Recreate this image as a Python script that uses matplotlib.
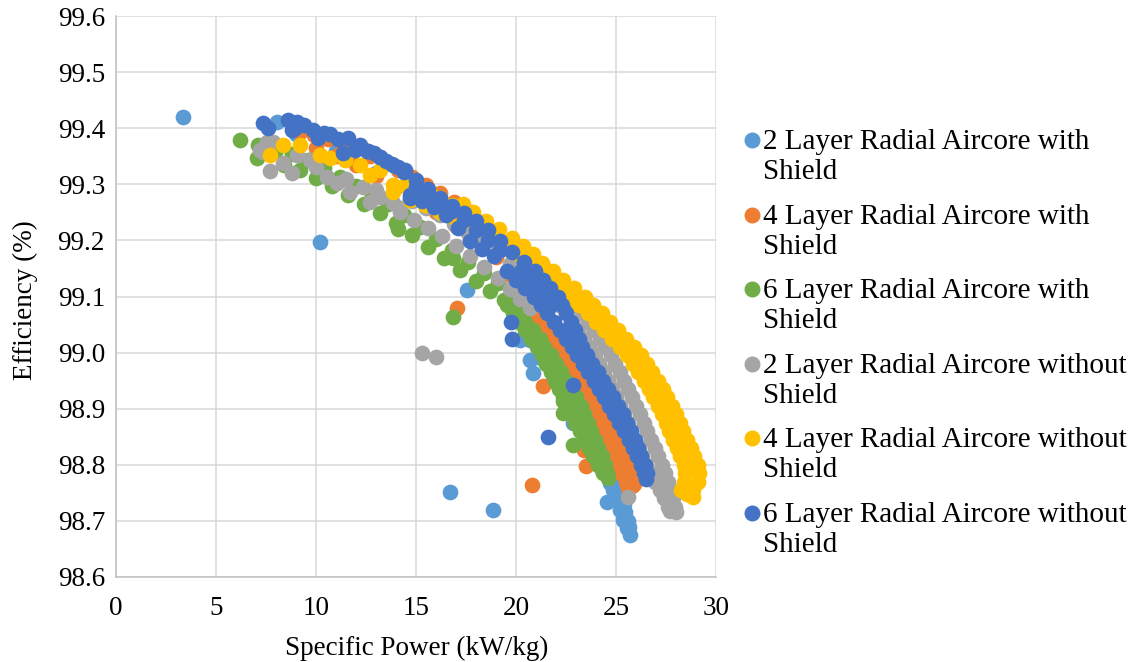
import matplotlib
matplotlib.use("Agg")
import matplotlib.pyplot as plt
from matplotlib.lines import Line2D
from matplotlib.ticker import FormatStrFormatter

plt.rcParams["font.family"] = ["Liberation Serif", "DejaVu Serif"]

labels = [
    "2 Layer Radial Aircore with",
    "4 Layer Radial Aircore with",
    "6 Layer Radial Aircore with",
    "2 Layer Radial Aircore without",
    "4 Layer Radial Aircore without",
    "6 Layer Radial Aircore without",
]
colors = ["#5B9BD5", "#ED7D31", "#70AD47", "#A5A5A5", "#FFC000", "#4472C4"]

# ---- 2 layer with shield (light blue) ----
lb_x = [3.35, 10.2, 16.7, 18.85, 17.55, 8.05, 9.0, 11.0, 13.0,
        19.55, 20.05, 20.55, 21.25, 21.85, 22.45, 22.95, 23.4, 23.9, 24.3,
        20.2, 20.7, 20.8, 21.05, 20.7, 20.85, 22.85,
        24.7, 24.85, 24.9, 25.0, 25.15, 25.3, 25.4, 25.45, 25.6, 25.65,
        24.55, 25.05, 25.2, 25.35, 25.55, 25.7]
lb_y = [99.42, 99.197, 98.752, 98.72, 99.112, 99.411, 99.39, 99.36, 99.32,
        99.09, 99.06, 99.03, 98.99, 98.95, 98.91, 98.88, 98.845, 98.815, 98.79,
        99.022, 99.022, 99.031, 99.014, 98.987, 98.964, 98.875,
        98.768, 98.755, 98.79, 98.775, 98.76, 98.745, 98.73, 98.715, 98.70, 98.69,
        98.734, 98.737, 98.719, 98.702, 98.687, 98.675]

# ---- 4 layer with shield (orange) ----
or_top_x = [9.2, 9.9, 10.6, 11.3, 12.0, 12.7, 13.4, 14.1, 14.8, 15.5, 16.2, 16.9,
            17.6, 18.3, 19.0, 19.6, 20.2]
or_top_y = [99.394, 99.388, 99.381, 99.373, 99.363, 99.351, 99.339, 99.326, 99.313, 99.299, 99.284, 99.268,
            99.25, 99.232, 99.21, 99.19, 99.165]
or_low_x = [10.0, 11.0, 12.0, 13.0, 14.0, 15.0, 16.0, 17.0, 18.0, 19.0, 19.6, 20.0]
or_low_y = [99.365, 99.35, 99.335, 99.315, 99.295, 99.275, 99.25, 99.225, 99.2, 99.17, 99.14, 99.115]
or_levels = [99.085, 99.07, 99.055, 99.04, 99.025, 99.01, 98.995, 98.98, 98.965, 98.95, 98.935,
             98.92, 98.905, 98.89, 98.875, 98.86, 98.845, 98.83, 98.815, 98.80, 98.785]
or_a_x = [20.45, 20.8, 21.1, 21.5, 21.85, 22.05, 22.4, 22.65, 22.9, 23.15, 23.4,
          23.65, 23.9, 24.05, 24.25, 24.4, 24.6, 24.75, 24.95, 25.1, 25.2]
or_b_x = [20.95, 21.3, 21.6, 22.0, 22.35, 22.55, 22.9, 23.15, 23.4, 23.65, 23.9,
          24.15, 24.4, 24.55, 24.75, 24.9, 25.1, 25.25, 25.45, 25.6, 25.7]
or_pts_x = [25.5, 25.8, 25.9, 25.6, 17.05, 21.35, 23.4, 23.5, 20.8]
or_pts_y = [98.77, 98.762, 98.765, 98.758, 99.08, 98.94, 98.826, 98.798, 98.764]

# ---- 6 layer with shield (green) ----
gr_pts_x = [6.2, 7.05, 7.1, 16.85, 22.85, 14.1, 16.85, 22.35, 22.35, 24.6]
gr_pts_y = [99.379, 99.347, 99.370, 99.063, 98.835, 99.22, 99.169, 98.913, 98.892, 98.776]
gr_top_x = [8.0, 8.8, 9.6, 10.4, 11.2, 12.0, 12.8, 13.6, 14.4, 15.2, 16.0, 16.8, 17.6, 18.4, 19.1]
gr_top_y = [99.362, 99.354, 99.343, 99.329, 99.313, 99.297, 99.281, 99.264, 99.246, 99.223, 99.202,
            99.182, 99.162, 99.142, 99.124]
gr_low_x = [8.4, 9.2, 10.0, 10.8, 11.6, 12.4, 13.2, 14.0, 14.8, 15.6, 16.4, 17.2, 18.0, 18.7, 19.4]
gr_low_y = [99.334, 99.325, 99.312, 99.297, 99.281, 99.265, 99.248, 99.231, 99.21, 99.188, 99.168,
            99.148, 99.128, 99.11, 99.093]
gr_levels = [99.085, 99.07, 99.055, 99.04, 99.025, 99.01, 98.995, 98.98, 98.965, 98.95, 98.935,
             98.92, 98.905, 98.89, 98.875, 98.86, 98.845, 98.83, 98.815, 98.80, 98.785]
gr_l_x = [19.55, 19.85, 20.15, 20.45, 20.75, 21.05, 21.3, 21.5, 21.75, 21.95, 22.15,
          22.35, 22.55, 22.75, 22.95, 23.2, 23.4, 23.65, 23.85, 24.1, 24.35]
gr_r_x = [19.8, 20.15, 20.45, 20.85, 21.2, 21.4, 21.75, 22.0, 22.25, 22.5, 22.75,
          23.0, 23.25, 23.4, 23.6, 23.75, 23.95, 24.1, 24.3, 24.45, 24.55]

# ---- 2 layer without shield (grey) ----
gy_pts_x = [7.2, 7.35, 7.55, 7.85, 7.7, 8.8, 8.35, 9.05, 9.7, 10.55, 11.05, 11.7,
            12.35, 13.2, 13.85, 12.7, 14.2, 10.0, 11.5, 13.0, 28.0, 27.7, 25.6,
            15.3, 16.0]
gy_pts_y = [99.361, 99.358, 99.375, 99.375, 99.324, 99.32, 99.338, 99.352, 99.343, 99.313, 99.302, 99.286,
            99.295, 99.277, 99.267, 99.268, 99.258, 99.33, 99.31, 99.29, 98.716, 98.718, 98.743,
            98.999, 98.993]
gy_top_x = [14.8, 15.5, 16.2, 16.9, 17.6, 18.3, 19.0, 19.7, 20.4, 21.0]
gy_top_y = [99.27, 99.258, 99.245, 99.23, 99.213, 99.195, 99.177, 99.158, 99.138, 99.12]
gy_low_x = [14.2, 14.9, 15.6, 16.3, 17.0, 17.7, 18.4, 19.1, 19.7, 20.2, 20.7]
gy_low_y = [99.25, 99.237, 99.222, 99.207, 99.19, 99.172, 99.153, 99.133, 99.113, 99.095, 99.08]
gy_levels = [99.145, 99.13, 99.115, 99.10, 99.085, 99.07, 99.055, 99.04, 99.025, 99.01,
             98.995, 98.98, 98.965, 98.95, 98.935, 98.92, 98.905, 98.89, 98.875, 98.86,
             98.845, 98.83, 98.815, 98.80, 98.785, 98.77, 98.755, 98.74, 98.725]
gy_r_x = [21.66, 21.99, 22.32, 22.65, 22.97, 23.28, 23.6, 23.89, 24.18, 24.46,
          24.73, 24.95, 25.18, 25.4, 25.6, 25.79, 25.99, 26.18, 26.38, 26.57,
          26.76, 26.94, 27.12, 27.3, 27.45, 27.6, 27.75, 27.85, 27.93]
gy_l_x = [20.86, 21.19, 21.52, 21.85, 22.17, 22.48, 22.8, 23.09, 23.38, 23.66,
          23.93, 24.15, 24.38, 24.6, 24.8, 24.99, 25.19, 25.38, 25.58, 25.77,
          25.96, 26.14, 26.32, 26.5, 26.75, 26.95, 27.2, 27.4, 27.6]

# ---- 4 layer without shield (yellow) ----
ye_pts_x = [7.7, 8.35, 9.2, 10.2, 10.7, 11.45, 12.2, 12.7, 13.2, 13.85, 13.85, 14.45,
            15.1, 15.7, 16.2, 16.8, 14.7, 15.45, 16.2, 16.95, 17.35, 16.6, 28.85, 28.55]
ye_pts_y = [99.352, 99.370, 99.370, 99.352, 99.347, 99.343, 99.334, 99.317, 99.326, 99.299, 99.286, 99.299,
            99.290, 99.284, 99.276, 99.263, 99.272, 99.263, 99.251, 99.240, 99.265, 99.25, 98.743, 98.748]
ye_levels = [99.25, 99.235, 99.22, 99.205, 99.19, 99.175, 99.16, 99.145, 99.13, 99.115,
             99.10, 99.085, 99.07, 99.055, 99.04, 99.025, 99.01, 98.995, 98.98, 98.965,
             98.95, 98.935, 98.92, 98.905, 98.89, 98.875, 98.86, 98.845, 98.83, 98.815,
             98.80, 98.785, 98.77, 98.755]
ye_o_x = [17.85, 18.5, 19.15, 19.8, 20.35, 20.83, 21.3, 21.83, 22.37, 22.91,
          23.45, 23.87, 24.29, 24.71, 25.11, 25.5, 25.89, 26.25, 26.53, 26.82,
          27.1, 27.33, 27.55, 27.78, 27.98, 28.18, 28.37, 28.56, 28.74, 28.92,
          29.1, 29.13, 29.1, 28.85]
ye_i_x = [17.15, 17.8, 18.45, 19.1, 19.65, 20.13, 20.6, 21.13, 21.67, 22.21,
          22.75, 23.17, 23.59, 24.01, 24.41, 24.8, 25.19, 25.55, 25.83, 26.12,
          26.4, 26.63, 26.85, 27.08, 27.28, 27.48, 27.67, 27.86, 28.04, 28.22,
          28.4, 28.43, 28.4, 28.25]

# ---- 6 layer without shield (dark blue) ----
bl_pts_x = [7.35, 7.6, 8.6, 9.05, 8.8, 9.85, 10.1, 10.7, 11.6, 11.35, 11.95, 12.55,
            13.2, 13.85, 14.45, 14.7, 8.95, 9.4, 10.4, 11.1, 12.2, 12.9, 13.5, 14.1,
            26.5, 22.85, 21.6, 19.75, 19.8]
bl_pts_y = [99.409, 99.400, 99.415, 99.411, 99.397, 99.397, 99.383, 99.390, 99.383, 99.356, 99.361, 99.359,
            99.349, 99.334, 99.325, 99.276, 99.400, 99.405, 99.392, 99.38, 99.37, 99.355, 99.342, 99.33,
            98.775, 98.942, 98.85, 99.055, 99.024]
bl_top_x = [12.6, 13.2, 13.8, 14.4, 15.0, 15.6, 16.2, 16.8, 17.4, 18.0, 18.6, 19.2, 19.8, 20.4]
bl_top_y = [99.36, 99.348, 99.336, 99.322, 99.308, 99.292, 99.276, 99.262, 99.249, 99.235, 99.218,
            99.199, 99.18, 99.162]
bl_mid_x = [15.0, 15.6, 16.2, 16.8, 17.4, 18.0, 18.6, 19.2, 20.25, 20.65, 21.08, 21.5, 21.77]
bl_mid_y = [99.295, 99.282, 99.268, 99.252, 99.236, 99.218, 99.2, 99.182, 99.145, 99.13, 99.115,
            99.10, 99.085]
bl_low_x = [14.7, 15.3, 15.9, 16.5, 17.1, 17.7, 18.3, 18.9]
bl_low_y = [99.281, 99.27, 99.26, 99.246, 99.222, 99.199, 99.185, 99.172]
bl_levels = [99.145, 99.13, 99.115, 99.10, 99.085, 99.07, 99.055, 99.04, 99.025, 99.01,
             98.995, 98.98, 98.965, 98.95, 98.935, 98.92, 98.905, 98.89, 98.875, 98.86,
             98.845, 98.83, 98.815, 98.80, 98.785]
bl_l_x = [19.55, 20.0, 20.45, 20.9, 21.23, 21.56, 21.89, 22.2, 22.49, 22.78,
          23.05, 23.33, 23.62, 23.9, 24.16, 24.41, 24.67, 24.92, 25.16, 25.4,
          25.63, 25.84, 26.04, 26.25, 26.4]
bl_r_x = [20.95, 21.33, 21.7, 22.1, 22.31, 22.52, 22.73, 22.96, 23.13, 23.32,
          23.54, 23.81, 24.08, 24.35, 24.6, 24.86, 25.12, 25.35, 25.55, 25.74,
          25.93, 26.08, 26.23, 26.45, 26.55]

series = [
    (lb_x, lb_y),
    (or_top_x + or_low_x + or_a_x + or_b_x + or_pts_x,
     or_top_y + or_low_y + or_levels + or_levels + or_pts_y),
    (gr_pts_x + gr_top_x + gr_low_x + gr_l_x + gr_r_x,
     gr_pts_y + gr_top_y + gr_low_y + gr_levels + gr_levels),
    (gy_pts_x + gy_top_x + gy_low_x + gy_r_x + gy_l_x,
     gy_pts_y + gy_top_y + gy_low_y + gy_levels + gy_levels),
    (ye_pts_x + ye_o_x + ye_i_x, ye_pts_y + ye_levels + ye_levels),
    (bl_pts_x + bl_top_x + bl_mid_x + bl_low_x + bl_l_x + bl_r_x,
     bl_pts_y + bl_top_y + bl_mid_y + bl_low_y + bl_levels + bl_levels),
]

W, H = 1130, 662
fig = plt.figure(figsize=(W / 100, H / 100), dpi=100)
ax = fig.add_axes([116 / W, 1 - 577 / H, 600 / W, 561 / H])

for i, (xs, ys) in enumerate(series):
    ax.scatter(xs, ys, s=128, color=colors[i], linewidths=0, zorder=3 + i, clip_on=False)

ax.set_xlim(0, 30)
ax.set_ylim(98.6, 99.6)
ax.set_xticks(range(0, 31, 5))
ax.set_yticks([98.6 + 0.1 * k for k in range(11)])
ax.yaxis.set_major_formatter(FormatStrFormatter("%.1f"))
ax.grid(True, color="#d9d9d9", linewidth=1.1, zorder=0)
ax.set_axisbelow(True)
for side in ["top", "right"]:
    ax.spines[side].set_visible(False)
for side in ["left", "bottom"]:
    ax.spines[side].set_color("#bfbfbf")
    ax.spines[side].set_linewidth(1.1)
ax.tick_params(axis="both", length=0, labelsize=19.5, colors="#000000")
ax.tick_params(axis="y", pad=8)
ax.tick_params(axis="x", pad=14)

fig.text(417 / W, 1 - 648 / H, "Specific Power (kW/kg)", ha="center", va="center", fontsize=19.5)
fig.text(25 / W, 1 - 300 / H, "Efficiency (%)", ha="center", va="center", rotation=90, fontsize=19.5)

# legend drawn by hand so the marker sits on the first line
for i, lab in enumerate(labels):
    yc = 140 + 74.6 * i
    fig.add_artist(Line2D([752 / W], [1 - yc / H], marker="o", markersize=10.5,
                          color=colors[i], linestyle="none", transform=fig.transFigure))
    fig.text(763 / W, 1 - (yc + 9) / H, lab, ha="left", va="baseline", fontsize=21)
    fig.text(763 / W, 1 - (yc + 39) / H, "Shield", ha="left", va="baseline", fontsize=21)

fig.savefig("out.png", dpi=100)
